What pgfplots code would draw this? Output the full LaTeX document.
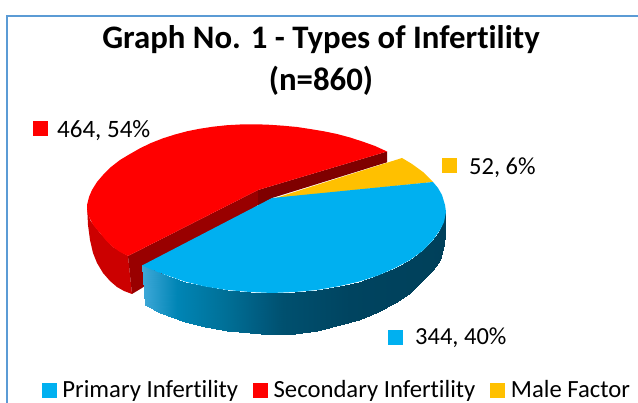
\documentclass[border=0pt]{standalone}
\usepackage{pgfplots}
\pgfplotsset{compat=1.18}
\usepackage{fontspec}
\setmainfont{Carlito}[Ligatures=CommonOff]
\definecolor{cblue}{HTML}{00B0F0}
\definecolor{cred}{HTML}{FF0000}
\definecolor{cgold}{HTML}{FFC000}
\definecolor{cwall}{HTML}{CC0000}
\definecolor{cdark}{HTML}{990000}
\definecolor{cdarker}{HTML}{7F0000}
\definecolor{cframe}{HTML}{5B9BD5}
\begin{document}
\begin{tikzpicture}
\begin{axis}[
  width=638pt, height=403pt, scale only axis,
  xmin=0, xmax=638, ymin=0, ymax=403, y dir=reverse,
  hide axis,
  colormap={side}{rgb255(0pt)=(62,168,216); rgb255(34pt)=(0,133,181); rgb255(84pt)=(0,111,150); rgb255(117pt)=(0,92,128); rgb255(140pt)=(0,80,111); rgb255(207pt)=(0,68,96); rgb255(303pt)=(0,64,90)},
  point meta min=143, point meta max=446,
  legend columns=3,
  legend image code/.code={\path[#1] plot coordinates {(7pt,0pt)};},
  legend style={draw=none, fill=none, at={(axis cs:337,390)}, anchor=center,
    font=\fontsize{24.7}{26}\selectfont,
    /tikz/every even column/.append style={column sep=13pt},
    /tikz/every odd column/.append style={column sep=4.5pt},
    inner sep=0pt},
]
\path (axis cs:0,0) rectangle (axis cs:638,403);
% frame
\addplot[forget plot, cframe, line width=2pt] coordinates {(6.5,403)(6.5,16)(638,16)};
% red wall
\addplot[forget plot, fill=cwall, draw=none] coordinates {
 (87,205)(90,220)(100,233)(113,247)(128,256)(132,294)(124,291)(117,287)(110,281)(103,273)(97,263)(93,253)(90,240)(88,225)};
% red cut faces
\addplot[forget plot, fill=cdark, draw=none] coordinates {
 (128,256)(258,190)(258,205)(142,288)(132,294)};
\addplot[forget plot, fill=cdarker, draw=none] coordinates {
 (258,190)(387,151.5)(387,162.3)(273,197.7)(258,206)};
% red top
\addplot[forget plot, fill=cred, draw=none] coordinates {
 (128,256)(120,252)(113,247)(106,240.5)(100,233)(94,226)(90,219)(87.5,212)(87,205)(89,197)(92,190)(97,182)(103,175)(111,167)(120,160)(130,154)(140,148.3)(151,143)(163,138.3)(175,134.5)(187,131.3)(200,128.7)(213,126.7)(227,125.2)(240,124.5)(257,124.3)(270,124.8)(283,125.7)(297,127)(310,129)(324,131.3)(337,134)(350,137.5)(363,141.7)(375,146)(387,151.5)(258,190)};
% gold top
\addplot[forget plot, fill=cgold, draw=none] coordinates {
 (274,198.5)(402,158)(412,164)(423,172)(433,182)};
% blue side
\addplot[forget plot, surf, shader=interp, mesh/cols=19, mesh/rows=2, point meta=x] coordinates {
 (142,265.5)(160,273)(185,281.6)(205,286.5)(227,290)(250,292)(272,293)(295,292)(317,290)(340,286)(359,281.6)(378,275.5)(395,268)(410,260)(423,250.5)(433,240)(440,230)(444,220)(446,208)

 (145,305)(160,313)(185,322)(205,327)(227,331)(250,333.5)(272,335)(295,334)(317,331)(340,325.5)(359,320)(378,312)(395,303)(410,293)(423,280)(433,270)(440,260)(444,245)(446,222)
};
% blue top
\addplot[forget plot, fill=cblue, draw=none] coordinates {
 (272,198)(433,182)(438,188)(442,195)(445,205)(446,212)(444,222)(440,230)(433,240)(423,250.5)(410,260)(395,268)(378,275.5)(359,281.6)(340,286)(317,290)(295,292)(272,293)(250,292)(227,290)(205,286.5)(185,281.6)(160,273)(142,265.5)};
% markers, also legend keys
\addplot[only marks, mark=square*, mark size=7, color=cblue, mark options={draw=none}] coordinates {(395,337.5)};
\addlegendentry{Primary Infertility}
\addplot[only marks, mark=square*, mark size=7, color=cred, mark options={draw=none}] coordinates {(40,128)};
\addlegendentry{Secondary Infertility}
\addplot[only marks, mark=square*, mark size=7, color=cgold, mark options={draw=none}] coordinates {(449.5,165)};
\addlegendentry{Male Factor}
% texts
\node[align=center, font=\fontsize{32.8}{42}\selectfont\bfseries] at (axis cs:321,60.5) {Graph No. 1 - Types of Infertility\\(n=860)};
\node[anchor=west, inner sep=0pt, font=\fontsize{25}{26}\selectfont] at (axis cs:57,130.5) {464, 54\%};
\node[anchor=west, inner sep=0pt, font=\fontsize{24.5}{26}\selectfont] at (axis cs:469,168) {52, 6\%};
\node[anchor=west, inner sep=0pt, font=\fontsize{24.5}{26}\selectfont] at (axis cs:415,338) {344, 40\%};
\end{axis}
\end{tikzpicture}
\end{document}
